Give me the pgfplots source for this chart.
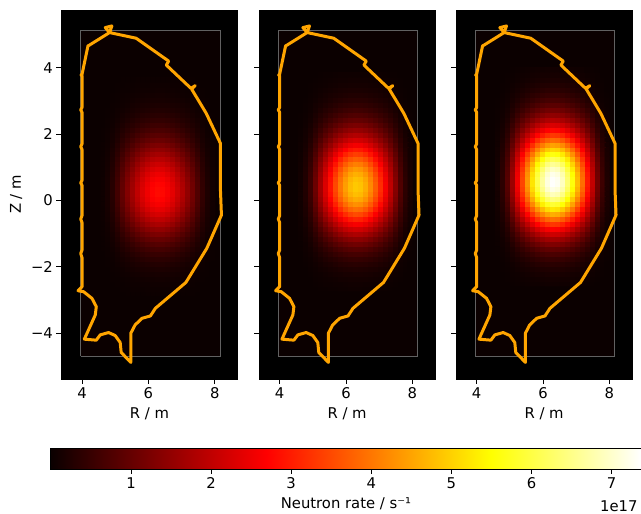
\documentclass[border=0pt]{standalone}
\usepackage{pgfplots}
\usepackage{pgfplotstable}
\usepackage{fontspec}
\setmainfont{DejaVu Sans}
\pgfplotsset{compat=1.18}
\definecolor{vessel}{RGB}{255,165,0}
\definecolor{hotzero}{rgb}{0.0416,0,0}
\newcommand{\lab}{\fontsize{14.8}{14.8}\selectfont}
\pgfplotstableread{
R Z
8.17 0.32
8.17 1.72
7.74 2.63
7.30 3.36
7.41 3.46
7.28 3.38
6.54 4.08
6.61 4.20
5.63 4.89
5.58 4.90
4.83 5.06
4.90 5.26
4.70 5.21
4.83 5.06
4.22 4.68
4.18 4.66
4.00 3.80
3.97 3.78
4.00 3.76
4.00 2.80
3.96 2.73
4.00 2.66
4.00 1.70
3.96 1.62
4.00 1.54
4.00 0.60
3.96 0.53
4.00 0.46
4.00 -0.46
3.96 -0.56
4.00 -0.66
4.00 -1.50
3.96 -1.60
4.00 -1.72
4.00 -2.60
3.88 -2.72
4.05 -2.75
4.30 -2.95
4.43 -3.20
4.40 -3.45
4.07 -4.18
4.43 -4.21
4.55 -4.05
4.80 -3.98
5.00 -4.07
5.15 -4.28
5.18 -4.58
5.47 -4.88
5.47 -4.00
5.60 -3.75
5.81 -3.55
6.06 -3.48
6.21 -3.25
7.13 -2.47
7.76 -1.44
8.20 -0.44
8.17 0.32
}\vessel
% Emission grid estimated from the picture's colours, per mille of each panel's peak;
% the panels share this one profile, each with its own peak and Z offset.
\pgfplotstableread{
R Z v
4.635 -2.805 0
4.785 -2.805 0
4.935 -2.805 1
5.085 -2.805 2
5.235 -2.805 3
5.385 -2.805 4
5.535 -2.805 5
5.685 -2.805 6
5.835 -2.805 7
5.985 -2.805 8
6.135 -2.805 9
6.285 -2.805 9
6.435 -2.805 9
6.585 -2.805 8
6.735 -2.805 8
6.885 -2.805 7
7.035 -2.805 6
7.185 -2.805 5
7.335 -2.805 4
7.485 -2.805 2
7.635 -2.805 1
7.785 -2.805 1
7.935 -2.805 0
4.635 -2.655 0
4.785 -2.655 1
4.935 -2.655 2
5.085 -2.655 3
5.235 -2.655 5
5.385 -2.655 7
5.535 -2.655 8
5.685 -2.655 10
5.835 -2.655 11
5.985 -2.655 13
6.135 -2.655 14
6.285 -2.655 14
6.435 -2.655 14
6.585 -2.655 13
6.735 -2.655 12
6.885 -2.655 11
7.035 -2.655 9
7.185 -2.655 7
7.335 -2.655 6
7.485 -2.655 4
7.635 -2.655 2
7.785 -2.655 1
7.935 -2.655 0
4.635 -2.505 0
4.785 -2.505 1
4.935 -2.505 2
5.085 -2.505 5
5.235 -2.505 7
5.385 -2.505 10
5.535 -2.505 13
5.685 -2.505 15
5.835 -2.505 18
5.985 -2.505 19
6.135 -2.505 21
6.285 -2.505 22
6.435 -2.505 21
6.585 -2.505 20
6.735 -2.505 18
6.885 -2.505 16
7.035 -2.505 14
7.185 -2.505 11
7.335 -2.505 9
7.485 -2.505 6
7.635 -2.505 3
7.785 -2.505 2
7.935 -2.505 1
4.635 -2.355 1
4.785 -2.355 2
4.935 -2.355 4
5.085 -2.355 7
5.235 -2.355 11
5.385 -2.355 15
5.535 -2.355 19
5.685 -2.355 23
5.835 -2.355 26
5.985 -2.355 29
6.135 -2.355 31
6.285 -2.355 32
6.435 -2.355 32
6.585 -2.355 30
6.735 -2.355 28
6.885 -2.355 24
7.035 -2.355 21
7.185 -2.355 17
7.335 -2.355 13
7.485 -2.355 9
7.635 -2.355 5
7.785 -2.355 2
7.935 -2.355 1
4.635 -2.205 1
4.785 -2.205 2
4.935 -2.205 5
5.085 -2.205 10
5.235 -2.205 16
5.385 -2.205 22
5.535 -2.205 28
5.685 -2.205 33
5.835 -2.205 39
5.985 -2.205 43
6.135 -2.205 46
6.285 -2.205 47
6.435 -2.205 46
6.585 -2.205 44
6.735 -2.205 40
6.885 -2.205 36
7.035 -2.205 31
7.185 -2.205 25
7.335 -2.205 19
7.485 -2.205 13
7.635 -2.205 7
7.785 -2.205 4
7.935 -2.205 1
4.635 -2.055 1
4.785 -2.055 3
4.935 -2.055 8
5.085 -2.055 15
5.235 -2.055 23
5.385 -2.055 32
5.535 -2.055 40
5.685 -2.055 48
5.835 -2.055 56
5.985 -2.055 62
6.135 -2.055 66
6.285 -2.055 68
6.435 -2.055 67
6.585 -2.055 64
6.735 -2.055 58
6.885 -2.055 52
7.035 -2.055 44
7.185 -2.055 36
7.335 -2.055 28
7.485 -2.055 19
7.635 -2.055 11
7.785 -2.055 5
7.935 -2.055 2
4.635 -1.905 2
4.785 -1.905 5
4.935 -1.905 11
5.085 -1.905 21
5.235 -1.905 33
5.385 -1.905 45
5.535 -1.905 56
5.685 -1.905 67
5.835 -1.905 78
5.985 -1.905 86
6.135 -1.905 92
6.285 -1.905 95
6.435 -1.905 94
6.585 -1.905 89
6.735 -1.905 82
6.885 -1.905 72
7.035 -1.905 62
7.185 -1.905 50
7.335 -1.905 38
7.485 -1.905 26
7.635 -1.905 15
7.785 -1.905 7
7.935 -1.905 3
4.635 -1.755 2
4.785 -1.755 7
4.935 -1.755 15
5.085 -1.755 28
5.235 -1.755 45
5.385 -1.755 61
5.535 -1.755 77
5.685 -1.755 92
5.835 -1.755 107
5.985 -1.755 118
6.135 -1.755 126
6.285 -1.755 130
6.435 -1.755 128
6.585 -1.755 122
6.735 -1.755 112
6.885 -1.755 99
7.035 -1.755 85
7.185 -1.755 69
7.335 -1.755 53
7.485 -1.755 36
7.635 -1.755 20
7.785 -1.755 10
7.935 -1.755 4
4.635 -1.605 3
4.785 -1.605 9
4.935 -1.605 19
5.085 -1.605 38
5.235 -1.605 60
5.385 -1.605 82
5.535 -1.605 103
5.685 -1.605 124
5.835 -1.605 143
5.985 -1.605 157
6.135 -1.605 169
6.285 -1.605 174
6.435 -1.605 172
6.585 -1.605 164
6.735 -1.605 150
6.885 -1.605 132
7.035 -1.605 113
7.185 -1.605 92
7.335 -1.605 70
7.485 -1.605 48
7.635 -1.605 27
7.785 -1.605 13
7.935 -1.605 5
4.635 -1.455 4
4.785 -1.455 11
4.935 -1.455 26
5.085 -1.455 50
5.235 -1.455 79
5.385 -1.455 107
5.535 -1.455 135
5.685 -1.455 162
5.835 -1.455 187
5.985 -1.455 206
6.135 -1.455 221
6.285 -1.455 228
6.435 -1.455 225
6.585 -1.455 214
6.735 -1.455 196
6.885 -1.455 173
7.035 -1.455 148
7.185 -1.455 121
7.335 -1.455 92
7.485 -1.455 63
7.635 -1.455 35
7.785 -1.455 17
7.935 -1.455 7
4.635 -1.305 5
4.785 -1.305 15
4.935 -1.305 33
5.085 -1.305 63
5.235 -1.305 100
5.385 -1.305 137
5.535 -1.305 172
5.685 -1.305 207
5.835 -1.305 239
5.985 -1.305 263
6.135 -1.305 282
6.285 -1.305 291
6.435 -1.305 288
6.585 -1.305 274
6.735 -1.305 250
6.885 -1.305 221
7.035 -1.305 189
7.185 -1.305 154
7.335 -1.305 118
7.485 -1.305 80
7.635 -1.305 45
7.785 -1.305 22
7.935 -1.305 9
4.635 -1.155 6
4.785 -1.155 18
4.935 -1.155 41
5.085 -1.155 80
5.235 -1.155 126
5.385 -1.155 172
5.535 -1.155 215
5.685 -1.155 259
5.835 -1.155 299
5.985 -1.155 330
6.135 -1.155 354
6.285 -1.155 365
6.435 -1.155 361
6.585 -1.155 343
6.735 -1.155 314
6.885 -1.155 277
7.035 -1.155 237
7.185 -1.155 193
7.335 -1.155 148
7.485 -1.155 100
7.635 -1.155 57
7.785 -1.155 27
7.935 -1.155 11
4.635 -1.005 8
4.785 -1.005 22
4.935 -1.005 50
5.085 -1.005 97
5.235 -1.005 154
5.385 -1.005 210
5.535 -1.005 263
5.685 -1.005 317
5.835 -1.005 366
5.985 -1.005 404
6.135 -1.005 433
6.285 -1.005 446
6.435 -1.005 441
6.585 -1.005 419
6.735 -1.005 384
6.885 -1.005 339
7.035 -1.005 290
7.185 -1.005 236
7.335 -1.005 181
7.485 -1.005 123
7.635 -1.005 69
7.785 -1.005 33
7.935 -1.005 13
4.635 -0.855 9
4.785 -0.855 27
4.935 -0.855 60
5.085 -0.855 116
5.235 -0.855 184
5.385 -0.855 251
5.535 -0.855 315
5.685 -0.855 379
5.835 -0.855 438
5.985 -0.855 483
6.135 -0.855 518
6.285 -0.855 534
6.435 -0.855 528
6.585 -0.855 502
6.735 -0.855 459
6.885 -0.855 406
7.035 -0.855 347
7.185 -0.855 283
7.335 -0.855 216
7.485 -0.855 147
7.635 -0.855 83
7.785 -0.855 40
7.935 -0.855 16
4.635 -0.705 11
4.785 -0.705 31
4.935 -0.705 70
5.085 -0.705 136
5.235 -0.705 216
5.385 -0.705 294
5.535 -0.705 369
5.685 -0.705 444
5.835 -0.705 513
5.985 -0.705 566
6.135 -0.705 606
6.285 -0.705 625
6.435 -0.705 618
6.585 -0.705 588
6.735 -0.705 538
6.885 -0.705 475
7.035 -0.705 406
7.185 -0.705 331
7.335 -0.705 253
7.485 -0.705 172
7.635 -0.705 97
7.785 -0.705 47
7.935 -0.705 19
4.635 -0.555 12
4.785 -0.555 36
4.935 -0.555 80
5.085 -0.555 156
5.235 -0.555 246
5.385 -0.555 336
5.535 -0.555 421
5.685 -0.555 507
5.835 -0.555 585
5.985 -0.555 646
6.135 -0.555 693
6.285 -0.555 714
6.435 -0.555 705
6.585 -0.555 671
6.735 -0.555 614
6.885 -0.555 543
7.035 -0.555 464
7.185 -0.555 378
7.335 -0.555 289
7.485 -0.555 196
7.635 -0.555 111
7.785 -0.555 54
7.935 -0.555 21
4.635 -0.405 14
4.785 -0.405 40
4.935 -0.405 89
5.085 -0.405 174
5.235 -0.405 276
5.385 -0.405 376
5.535 -0.405 471
5.685 -0.405 567
5.835 -0.405 655
5.985 -0.405 723
6.135 -0.405 775
6.285 -0.405 799
6.435 -0.405 789
6.585 -0.405 751
6.735 -0.405 687
6.885 -0.405 607
7.035 -0.405 519
7.185 -0.405 423
7.335 -0.405 324
7.485 -0.405 220
7.635 -0.405 124
7.785 -0.405 60
7.935 -0.405 24
4.635 -0.255 15
4.785 -0.255 44
4.935 -0.255 98
5.085 -0.255 190
5.235 -0.255 301
5.385 -0.255 410
5.535 -0.255 515
5.685 -0.255 620
5.835 -0.255 716
5.985 -0.255 790
6.135 -0.255 847
6.285 -0.255 873
6.435 -0.255 863
6.585 -0.255 821
6.735 -0.255 751
6.885 -0.255 663
7.035 -0.255 567
7.185 -0.255 463
7.335 -0.255 354
7.485 -0.255 240
7.635 -0.255 135
7.785 -0.255 65
7.935 -0.255 26
4.635 -0.105 16
4.785 -0.105 47
4.935 -0.105 105
5.085 -0.105 204
5.235 -0.105 322
5.385 -0.105 439
5.535 -0.105 551
5.685 -0.105 663
5.835 -0.105 766
5.985 -0.105 845
6.135 -0.105 906
6.285 -0.105 934
6.435 -0.105 923
6.585 -0.105 878
6.735 -0.105 803
6.885 -0.105 710
7.035 -0.105 607
7.185 -0.105 495
7.335 -0.105 378
7.485 -0.105 257
7.635 -0.105 145
7.785 -0.105 70
7.935 -0.105 28
4.635 0.045 17
4.785 0.045 49
4.935 0.045 109
5.085 0.045 213
5.235 0.045 337
5.385 0.045 459
5.535 0.045 576
5.685 0.045 693
5.835 0.045 800
5.985 0.045 883
6.135 0.045 947
6.285 0.045 976
6.435 0.045 964
6.585 0.045 917
6.735 0.045 839
6.885 0.045 742
7.035 0.045 634
7.185 0.045 517
7.335 0.045 395
7.485 0.045 268
7.635 0.045 151
7.785 0.045 73
7.935 0.045 29
4.635 0.195 17
4.785 0.195 50
4.935 0.195 112
5.085 0.195 218
5.235 0.195 344
5.385 0.195 469
5.535 0.195 589
5.685 0.195 709
5.835 0.195 818
5.985 0.195 903
6.135 0.195 968
6.285 0.195 998
6.435 0.195 986
6.585 0.195 938
6.735 0.195 858
6.885 0.195 758
7.035 0.195 649
7.185 0.195 529
7.335 0.195 404
7.485 0.195 274
7.635 0.195 155
7.785 0.195 75
7.935 0.195 30
4.635 0.345 17
4.785 0.345 50
4.935 0.345 112
5.085 0.345 217
5.235 0.345 344
5.385 0.345 469
5.535 0.345 588
5.685 0.345 708
5.835 0.345 818
5.985 0.345 902
6.135 0.345 967
6.285 0.345 997
6.435 0.345 985
6.585 0.345 937
6.735 0.345 857
6.885 0.345 758
7.035 0.345 648
7.185 0.345 528
7.335 0.345 404
7.485 0.345 274
7.635 0.345 155
7.785 0.345 75
7.935 0.345 30
4.635 0.495 17
4.785 0.495 49
4.935 0.495 110
5.085 0.495 214
5.235 0.495 338
5.385 0.495 461
5.535 0.495 578
5.685 0.495 696
5.835 0.495 804
5.985 0.495 887
6.135 0.495 951
6.285 0.495 980
6.435 0.495 968
6.585 0.495 921
6.735 0.495 843
6.885 0.495 745
7.035 0.495 637
7.185 0.495 519
7.335 0.495 397
7.485 0.495 270
7.635 0.495 152
7.785 0.495 74
7.935 0.495 29
4.635 0.645 16
4.785 0.645 47
4.935 0.645 106
5.085 0.645 206
5.235 0.645 326
5.385 0.645 444
5.535 0.645 558
5.685 0.645 671
5.835 0.645 775
5.985 0.645 855
6.135 0.645 917
6.285 0.645 945
6.435 0.645 934
6.585 0.645 888
6.735 0.645 813
6.885 0.645 718
7.035 0.645 614
7.185 0.645 501
7.335 0.645 383
7.485 0.645 260
7.635 0.645 146
7.785 0.645 71
7.935 0.645 28
4.635 0.795 15
4.785 0.795 45
4.935 0.795 100
5.085 0.795 195
5.235 0.795 309
5.385 0.795 421
5.535 0.795 529
5.685 0.795 636
5.835 0.795 735
5.985 0.795 811
6.135 0.795 869
6.285 0.795 896
6.435 0.795 885
6.585 0.795 842
6.735 0.795 771
6.885 0.795 681
7.035 0.795 582
7.185 0.795 475
7.335 0.795 363
7.485 0.795 246
7.635 0.795 139
7.785 0.795 67
7.935 0.795 27
4.635 0.945 14
4.785 0.945 42
4.935 0.945 93
5.085 0.945 182
5.235 0.945 288
5.385 0.945 392
5.535 0.945 492
5.685 0.945 592
5.835 0.945 684
5.985 0.945 755
6.135 0.945 809
6.285 0.945 834
6.435 0.945 824
6.585 0.945 784
6.735 0.945 717
6.885 0.945 634
7.035 0.945 542
7.185 0.945 442
7.335 0.945 338
7.485 0.945 229
7.635 0.945 129
7.785 0.945 63
7.935 0.945 25
4.635 1.095 13
4.785 1.095 38
4.935 1.095 85
5.085 1.095 166
5.235 1.095 263
5.385 1.095 359
5.535 1.095 450
5.685 1.095 542
5.835 1.095 626
5.985 1.095 691
6.135 1.095 740
6.285 1.095 763
6.435 1.095 754
6.585 1.095 717
6.735 1.095 656
6.885 1.095 580
7.035 1.095 496
7.185 1.095 404
7.335 1.095 309
7.485 1.095 210
7.635 1.095 118
7.785 1.095 57
7.935 1.095 23
4.635 1.245 12
4.785 1.245 34
4.935 1.245 77
5.085 1.245 150
5.235 1.245 237
5.385 1.245 323
5.535 1.245 405
5.685 1.245 488
5.835 1.245 563
5.985 1.245 622
6.135 1.245 666
6.285 1.245 687
6.435 1.245 679
6.585 1.245 646
6.735 1.245 591
6.885 1.245 522
7.035 1.245 447
7.185 1.245 364
7.335 1.245 278
7.485 1.245 189
7.635 1.245 106
7.785 1.245 52
7.935 1.245 21
4.635 1.395 10
4.785 1.395 30
4.935 1.395 68
5.085 1.395 132
5.235 1.395 209
5.385 1.395 285
5.535 1.395 358
5.685 1.395 431
5.835 1.395 498
5.985 1.395 549
6.135 1.395 589
6.285 1.395 607
6.435 1.395 600
6.585 1.395 571
6.735 1.395 522
6.885 1.395 461
7.035 1.395 395
7.185 1.395 322
7.335 1.395 246
7.485 1.395 167
7.635 1.395 94
7.785 1.395 46
7.935 1.395 18
4.635 1.545 9
4.785 1.545 26
4.935 1.545 59
5.085 1.545 115
5.235 1.545 182
5.385 1.545 248
5.535 1.545 311
5.685 1.545 374
5.835 1.545 432
5.985 1.545 477
6.135 1.545 511
6.285 1.545 527
6.435 1.545 521
6.585 1.545 495
6.735 1.545 453
6.885 1.545 401
7.035 1.545 343
7.185 1.545 279
7.335 1.545 213
7.485 1.545 145
7.635 1.545 82
7.785 1.545 40
7.935 1.545 16
4.635 1.695 8
4.785 1.695 22
4.935 1.695 50
5.085 1.695 98
5.235 1.695 155
5.385 1.695 211
5.535 1.695 265
5.685 1.695 319
5.835 1.695 368
5.985 1.695 406
6.135 1.695 436
6.285 1.695 449
6.435 1.695 444
6.585 1.695 422
6.735 1.695 386
6.885 1.695 341
7.035 1.695 292
7.185 1.695 238
7.335 1.695 182
7.485 1.695 123
7.635 1.695 70
7.785 1.695 34
7.935 1.695 13
4.635 1.845 6
4.785 1.845 19
4.935 1.845 42
5.085 1.845 82
5.235 1.845 130
5.385 1.845 177
5.535 1.845 222
5.685 1.845 267
5.835 1.845 308
5.985 1.845 340
6.135 1.845 365
6.285 1.845 376
6.435 1.845 371
6.585 1.845 353
6.735 1.845 323
6.885 1.845 286
7.035 1.845 244
7.185 1.845 199
7.335 1.845 152
7.485 1.845 103
7.635 1.845 58
7.785 1.845 28
7.935 1.845 11
4.635 1.995 5
4.785 1.995 16
4.935 1.995 35
5.085 1.995 68
5.235 1.995 107
5.385 1.995 146
5.535 1.995 183
5.685 1.995 220
5.835 1.995 254
5.985 1.995 281
6.135 1.995 301
6.285 1.995 310
6.435 1.995 306
6.585 1.995 291
6.735 1.995 267
6.885 1.995 236
7.035 1.995 202
7.185 1.995 164
7.335 1.995 126
7.485 1.995 85
7.635 1.995 48
7.785 1.995 23
7.935 1.995 9
4.635 2.145 4
4.785 2.145 13
4.935 2.145 28
5.085 2.145 55
5.235 2.145 87
5.385 2.145 118
5.535 2.145 148
5.685 2.145 178
5.835 2.145 206
5.985 2.145 227
6.135 2.145 243
6.285 2.145 251
6.435 2.145 248
6.585 2.145 236
6.735 2.145 216
6.885 2.145 191
7.035 2.145 163
7.185 2.145 133
7.335 2.145 102
7.485 2.145 69
7.635 2.145 39
7.785 2.145 19
7.935 2.145 8
4.635 2.295 3
4.785 2.295 10
4.935 2.295 22
5.085 2.295 43
5.235 2.295 69
5.385 2.295 94
5.535 2.295 117
5.685 2.295 141
5.835 2.295 163
5.985 2.295 180
6.135 2.295 193
6.285 2.295 199
6.435 2.295 197
6.585 2.295 187
6.735 2.295 171
6.885 2.295 151
7.035 2.295 129
7.185 2.295 105
7.335 2.295 81
7.485 2.295 55
7.635 2.295 31
7.785 2.295 15
7.935 2.295 6
4.635 2.445 3
4.785 2.445 8
4.935 2.445 17
5.085 2.445 34
5.235 2.445 54
5.385 2.445 73
5.535 2.445 92
5.685 2.445 111
5.835 2.445 128
5.985 2.445 141
6.135 2.445 151
6.285 2.445 156
6.435 2.445 154
6.585 2.445 147
6.735 2.445 134
6.885 2.445 119
7.035 2.445 101
7.185 2.445 83
7.335 2.445 63
7.485 2.445 43
7.635 2.445 24
7.785 2.445 12
7.935 2.445 5
4.635 2.595 2
4.785 2.595 6
4.935 2.595 13
5.085 2.595 26
5.235 2.595 41
5.385 2.595 56
5.535 2.595 70
5.685 2.595 84
5.835 2.595 98
5.985 2.595 108
6.135 2.595 115
6.285 2.595 119
6.435 2.595 118
6.585 2.595 112
6.735 2.595 102
6.885 2.595 90
7.035 2.595 77
7.185 2.595 63
7.335 2.595 48
7.485 2.595 33
7.635 2.595 18
7.785 2.595 9
7.935 2.595 4
4.635 2.745 2
4.785 2.745 5
4.935 2.745 10
5.085 2.745 20
5.235 2.745 31
5.385 2.745 42
5.535 2.745 53
5.685 2.745 64
5.835 2.745 74
5.985 2.745 81
6.135 2.745 87
6.285 2.745 90
6.435 2.745 89
6.585 2.745 85
6.735 2.745 77
6.885 2.745 68
7.035 2.745 59
7.185 2.745 48
7.335 2.745 36
7.485 2.745 25
7.635 2.745 14
7.785 2.745 7
7.935 2.745 3
4.635 2.895 1
4.785 2.895 3
4.935 2.895 8
5.085 2.895 15
5.235 2.895 23
5.385 2.895 31
5.535 2.895 40
5.685 2.895 48
5.835 2.895 55
5.985 2.895 61
6.135 2.895 65
6.285 2.895 67
6.435 2.895 66
6.585 2.895 63
6.735 2.895 58
6.885 2.895 51
7.035 2.895 44
7.185 2.895 36
7.335 2.895 27
7.485 2.895 18
7.635 2.895 10
7.785 2.895 5
7.935 2.895 2
4.635 3.045 1
4.785 3.045 2
4.935 3.045 5
5.085 3.045 11
5.235 3.045 17
5.385 3.045 23
5.535 3.045 29
5.685 3.045 35
5.835 3.045 40
5.985 3.045 44
6.135 3.045 48
6.285 3.045 49
6.435 3.045 48
6.585 3.045 46
6.735 3.045 42
6.885 3.045 37
7.035 3.045 32
7.185 3.045 26
7.335 3.045 20
7.485 3.045 13
7.635 3.045 8
7.785 3.045 4
7.935 3.045 1
4.635 3.195 1
4.785 3.195 2
4.935 3.195 4
5.085 3.195 8
5.235 3.195 12
5.385 3.195 16
5.535 3.195 21
5.685 3.195 25
5.835 3.195 29
5.985 3.195 32
6.135 3.195 34
6.285 3.195 35
6.435 3.195 35
6.585 3.195 33
6.735 3.195 30
6.885 3.195 27
7.035 3.195 23
7.185 3.195 19
7.335 3.195 14
7.485 3.195 10
7.635 3.195 5
7.785 3.195 3
7.935 3.195 1
4.635 3.345 0
4.785 3.345 1
4.935 3.345 3
5.085 3.345 5
5.235 3.345 8
5.385 3.345 11
5.535 3.345 14
5.685 3.345 17
5.835 3.345 20
5.985 3.345 22
6.135 3.345 23
6.285 3.345 24
6.435 3.345 24
6.585 3.345 23
6.735 3.345 21
6.885 3.345 18
7.035 3.345 16
7.185 3.345 13
7.335 3.345 10
7.485 3.345 7
7.635 3.345 4
7.785 3.345 2
7.935 3.345 1
4.635 3.495 0
4.785 3.495 1
4.935 3.495 2
5.085 3.495 4
5.235 3.495 6
5.385 3.495 8
5.535 3.495 10
5.685 3.495 12
5.835 3.495 14
5.985 3.495 15
6.135 3.495 16
6.285 3.495 17
6.435 3.495 17
6.585 3.495 16
6.735 3.495 15
6.885 3.495 13
7.035 3.495 11
7.185 3.495 9
7.335 3.495 7
7.485 3.495 5
7.635 3.495 3
7.785 3.495 1
7.935 3.495 1
4.635 3.645 0
4.785 3.645 1
4.935 3.645 1
5.085 3.645 2
5.235 3.645 4
5.385 3.645 5
5.535 3.645 6
5.685 3.645 8
5.835 3.645 9
5.985 3.645 10
6.135 3.645 11
6.285 3.645 11
6.435 3.645 11
6.585 3.645 10
6.735 3.645 9
6.885 3.645 8
7.035 3.645 7
7.185 3.645 6
7.335 3.645 4
7.485 3.645 3
7.635 3.645 2
7.785 3.645 1
7.935 3.645 0
}\shape
\pgfplotsset{
  hotmap/.style={colormap={hot}{rgb(0pt)=(0.0416,0,0); rgb(365pt)=(1,0,0); rgb(746pt)=(1,1,0); rgb(1000pt)=(1,1,1)}},
  panel/.style={
    hotmap, scale only axis, width=176.4pt, height=369pt,
    xmin=3.376, xmax=8.69, ymin=-5.38, ymax=5.74,
    point meta min=0, point meta max=7.367,
    axis background/.style={fill=black},
    xtick={4,6,8}, xticklabels={4,6,8},
    ytick={-4,-2,0,2,4},
    xtick pos=bottom, ytick pos=left,
    tick align=outside, major tick length=4.9pt,
    tick style={black,line width=0.8pt},
    axis line style={line width=0.8pt},
    tick label style={font=\lab},
    label style={font=\lab},
    xlabel={R / m},
    xlabel style={yshift=-2pt},
    anchor=south west,
    clip=false,
  },
}
\newcommand{\panelbody}[2]{%
  \addplot[fill=hotzero, draw=black!62, line width=0.5pt] coordinates {(3.96,-4.68) (8.16,-4.68) (8.16,5.13) (3.96,5.13) (3.96,-4.68)};
  \addplot[matrix plot*, mesh/cols=23, point meta=explicit, shader=flat corner]
     table[x=R, y expr=\thisrow{Z}+#2, meta expr=\thisrow{v}*#1/1000] {\shape};
  \addplot[vessel, line width=3pt, line join=round, no markers] table[x=R,y=Z] {\vessel};
}
\begin{document}
\begin{tikzpicture}[x=1pt,y=1pt]
\path[use as bounding box] (0,0) rectangle (641,514);
\begin{axis}[panel, at={(61.3pt,135pt)},
  yticklabels={−4,−2,0,2,4}, ylabel={Z / m}, ylabel style={yshift=2pt}]
\panelbody{2.8}{0}
\end{axis}
\begin{axis}[panel, at={(258.9pt,135pt)}, yticklabels={}]
\panelbody{4.9}{0.15}
\end{axis}
\begin{axis}[panel, at={(455.9pt,135pt)}, yticklabels={}]
\panelbody{7.36}{0.30}
\end{axis}
\begin{axis}[hotmap, scale only axis, at={(50.9pt,45pt)}, anchor=south west, axis on top,
  width=590.1pt, height=21pt, xmin=0, xmax=7.367, ymin=0, ymax=1,
  point meta min=0, point meta max=7.367,
  ytick=\empty, xtick={1,2,3,4,5,6,7}, xticklabels={1,2,3,4,5,6,7},
  xtick pos=bottom, tick align=outside, major tick length=4.9pt,
  tick style={black,line width=0.8pt}, axis line style={line width=0.8pt},
  tick label style={font=\lab},
  label style={font=\lab},
  xlabel={Neutron rate / s⁻¹}, xlabel style={yshift=-2pt}, view={0}{90}]
\addplot[surf, shader=interp, mesh/cols=2, point meta=x] coordinates {(0,0) (7.367,0) (0,1) (7.367,1)};
\end{axis}
\node[anchor=east, font=\lab] at (641,8) {1e17};
\end{tikzpicture}
\end{document}
